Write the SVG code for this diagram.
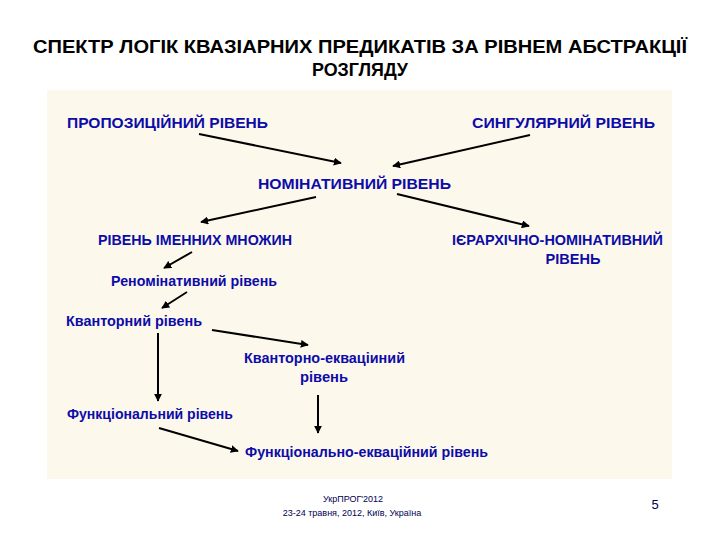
<svg xmlns="http://www.w3.org/2000/svg" width="720" height="540" viewBox="0 0 720 540">
<defs>
<style>
.t{font-family:"Liberation Sans",Arial,sans-serif;font-weight:bold;fill:#000;font-size:19px}
.n{font-family:"Liberation Sans",Arial,sans-serif;font-weight:bold;fill:#0c0ca8;font-size:14px}
.f{font-family:"Liberation Sans",Arial,sans-serif;fill:#000050;font-size:9px}
.c line{stroke:#000;stroke-width:2;marker-end:url(#ah)}
</style>
<marker id="ah" viewBox="0 0 10 10" refX="9" refY="5" markerWidth="4" markerHeight="4" orient="auto" markerUnits="strokeWidth">
<path d="M0,0 L10,5 L0,10 z" fill="#000"/>
</marker>
</defs>
<rect width="720" height="540" fill="#fff"/>
<rect x="47" y="90" width="625" height="389" fill="#fdf8ec"/>
<text class="t" x="360" y="53" text-anchor="middle" textLength="654" lengthAdjust="spacingAndGlyphs">СПЕКТР ЛОГІК КВАЗІАРНИХ ПРЕДИКАТІВ ЗА РІВНЕМ АБСТРАКЦІЇ</text>
<text class="t" x="360" y="76" text-anchor="middle" textLength="96" lengthAdjust="spacingAndGlyphs">РОЗГЛЯДУ</text>
<g id="n-propoz"><text class="n" x="67" y="128" textLength="201" lengthAdjust="spacingAndGlyphs">ПРОПОЗИЦІЙНИЙ РІВЕНЬ</text></g>
<g id="n-singul"><text class="n" x="472" y="128" textLength="183" lengthAdjust="spacingAndGlyphs">СИНГУЛЯРНИЙ РІВЕНЬ</text></g>
<g id="n-nomin"><text class="n" x="258" y="189" textLength="193" lengthAdjust="spacingAndGlyphs">НОМІНАТИВНИЙ РІВЕНЬ</text></g>
<g id="n-imen"><text class="n" x="98" y="245" textLength="194" lengthAdjust="spacingAndGlyphs">РІВЕНЬ ІМЕННИХ МНОЖИН</text></g>
<g id="n-ierarh"><text class="n" x="452" y="245" textLength="211" lengthAdjust="spacingAndGlyphs">ІЄРАРХІЧНО-НОМІНАТИВНИЙ</text><text class="n" x="573" y="264" text-anchor="middle" textLength="55" lengthAdjust="spacingAndGlyphs">РІВЕНЬ</text></g>
<g id="n-renom"><text class="n" x="111" y="286" textLength="166" lengthAdjust="spacingAndGlyphs">Реномінативний рівень</text></g>
<g id="n-kvant"><text class="n" x="66" y="326" textLength="136" lengthAdjust="spacingAndGlyphs">Кванторний рівень</text></g>
<g id="n-kvekv"><text class="n" x="244" y="363" textLength="161" lengthAdjust="spacingAndGlyphs">Кванторно-екваціиний</text><text class="n" x="324" y="382" text-anchor="middle" textLength="48" lengthAdjust="spacingAndGlyphs">рівень</text></g>
<g id="n-funk"><text class="n" x="67" y="419" textLength="166" lengthAdjust="spacingAndGlyphs">Функціональний рівень</text></g>
<g id="n-funkekv"><text class="n" x="245" y="457" textLength="243" lengthAdjust="spacingAndGlyphs">Функціонально-екваційний рівень</text></g>
<g id="connectors" class="c">
<line x1="199" y1="134" x2="341" y2="163"/>
<line x1="530" y1="135" x2="393" y2="166"/>
<line x1="316" y1="197" x2="201" y2="222"/>
<line x1="397" y1="194" x2="529" y2="226"/>
<line x1="192" y1="252" x2="164" y2="268"/>
<line x1="187" y1="292" x2="162" y2="308"/>
<line x1="212" y1="330" x2="308" y2="345"/>
<line x1="158" y1="333" x2="158" y2="401"/>
<line x1="318" y1="395" x2="318" y2="433"/>
<line x1="159" y1="428" x2="238" y2="451"/>
</g>
<g id="footer">
<text class="f" x="353" y="502" text-anchor="middle">УкрПРОГ'2012</text>
<text class="f" x="352" y="516" text-anchor="middle">23-24 травня, 2012, Київ, Україна</text>
<text x="655" y="509" text-anchor="middle" font-family="Liberation Sans,Arial,sans-serif" font-size="13" fill="#000050">5</text>
</g>
</svg>
